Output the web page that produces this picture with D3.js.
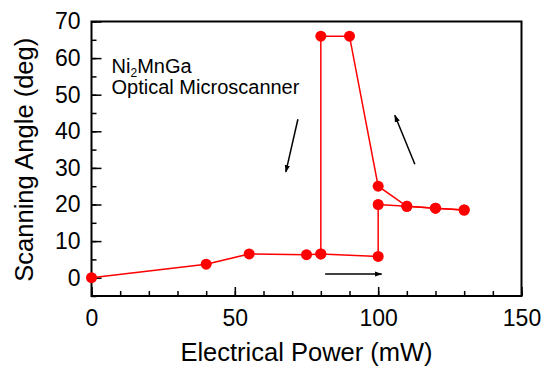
<!DOCTYPE html>
<html lang="en">
<head>
  <meta charset="UTF-8" />
  <title>Scanning Angle vs Electrical Power</title>
  <script src="https://d3js.org/d3.v7.min.js"></script>
  <style>
    body { margin: 0; background: #fff; }
    svg { display: block; font-family: "Liberation Sans", Arial, sans-serif; }
    .axis text { font-size: 23px; fill: #000; }
    .axis line { stroke: #000; stroke-width: 1.5; }
    .axis path { display: none; }
    .title { font-size: 25.5px; fill: #000; }
  </style>
</head>
<body>
  <svg width="543" height="368"></svg>
  <script>
    // heating branch, then cooling branch (mW, deg)
    const powerUp = [0, 40, 55, 75, 80, 100, 100, 110, 120, 130];
    const angleUp = [0, 3.7, 6.5, 6.3, 6.5, 5.8, 20, 19.5, 19, 18.5];
    const powerDown = [130, 120, 110, 100, 90, 80, 80];
    const angleDown = [18.5, 19, 19.5, 25, 66, 66, 6.5];

    const xMajor = [0, 50, 100, 150];
    const yMajor = [0, 10, 20, 30, 40, 50, 60, 70];

    // arrows in data units: [x1, y1, x2, y2]
    const arrows = [
      [72, 43.3, 67.8, 28.9],
      [112.8, 31, 105.8, 44.4],
      [81.5, 1, 101.2, 1]
    ];

    const svg = d3.select("svg");
    const margin = { top: 21.5, right: 21.5, bottom: 72, left: 91.5 };
    const W = 543, H = 368;

    const x = d3.scaleLinear().domain([0, 150]).range([margin.left, W - margin.right]);
    const y = d3.scaleLinear().domain([-5, 70]).range([H - margin.bottom, margin.top]);

    // minor ticks
    svg.append("g").attr("class", "axis")
      .attr("transform", `translate(0,${y(-5)})`)
      .call(d3.axisBottom(x).tickValues(d3.range(0, 151, 10)).tickSize(-5).tickFormat(""));
    svg.append("g").attr("class", "axis")
      .attr("transform", `translate(${x(0)},0)`)
      .call(d3.axisLeft(y).tickValues(d3.range(-5, 71, 5)).tickSize(-5).tickFormat(""));

    // major ticks with labels
    svg.append("g").attr("class", "axis")
      .attr("transform", `translate(0,${y(-5)})`)
      .call(d3.axisBottom(x).tickValues(xMajor).tickSize(-9).tickPadding(14));
    svg.append("g").attr("class", "axis")
      .attr("transform", `translate(${x(0)},0)`)
      .call(d3.axisLeft(y).tickValues(yMajor).tickSize(-10).tickPadding(11));

    // frame
    svg.append("rect")
      .attr("x", x(0)).attr("y", y(70))
      .attr("width", x(150) - x(0)).attr("height", y(-5) - y(70))
      .attr("fill", "none").attr("stroke", "#000").attr("stroke-width", 2);

    const line = d3.line().x(d => x(d[0])).y(d => y(d[1]));
    const up = powerUp.map((p, i) => [p, angleUp[i]]);
    const down = powerDown.map((p, i) => [p, angleDown[i]]);

    [up, down].forEach(s => {
      svg.append("path").datum(s)
        .attr("d", line)
        .attr("fill", "none")
        .attr("stroke", "#ff0000")
        .attr("stroke-width", 1.5);
    });

    svg.selectAll(".dot")
      .data(up.concat(down))
      .enter().append("circle")
      .attr("class", "dot")
      .attr("cx", d => x(d[0]))
      .attr("cy", d => y(d[1]))
      .attr("r", 5.5)
      .attr("fill", "#ff0000");

    // arrow heads
    svg.append("defs").append("marker")
      .attr("id", "head")
      .attr("viewBox", "0 0 10 10")
      .attr("refX", 9).attr("refY", 5)
      .attr("markerWidth", 5).attr("markerHeight", 5)
      .attr("orient", "auto")
      .attr("markerUnits", "strokeWidth")
      .append("path").attr("d", "M0,1.5L10,5L0,8.5z").attr("fill", "#000");

    svg.selectAll(".arrow")
      .data(arrows)
      .enter().append("line")
      .attr("class", "arrow")
      .attr("x1", d => x(d[0])).attr("y1", d => y(d[1]))
      .attr("x2", d => x(d[2])).attr("y2", d => y(d[3]))
      .attr("stroke", "#000").attr("stroke-width", 1.5)
      .attr("marker-end", "url(#head)");

    // annotation
    const note = svg.append("text")
      .attr("x", x(7)).attr("y", y(55.8))
      .attr("font-size", 20).attr("fill", "#000");
    note.append("tspan").text("Ni");
    note.append("tspan").attr("font-size", 12).attr("dy", 4).text("2");
    note.append("tspan").attr("dy", -4).text("MnGa");
    svg.append("text")
      .attr("x", x(7)).attr("y", y(50.3))
      .attr("font-size", 20).attr("fill", "#000")
      .text("Optical Microscanner");

    // axis titles
    svg.append("text").attr("class", "title")
      .attr("x", (x(0) + x(150)) / 2).attr("y", 361)
      .attr("text-anchor", "middle")
      .text("Electrical Power (mW)");
    svg.append("text").attr("class", "title")
      .attr("transform", `translate(33,${(y(-5) + y(70)) / 2 + 1}) rotate(-90)`)
      .attr("text-anchor", "middle")
      .text("Scanning Angle (deg)");
  </script>
</body>
</html>
